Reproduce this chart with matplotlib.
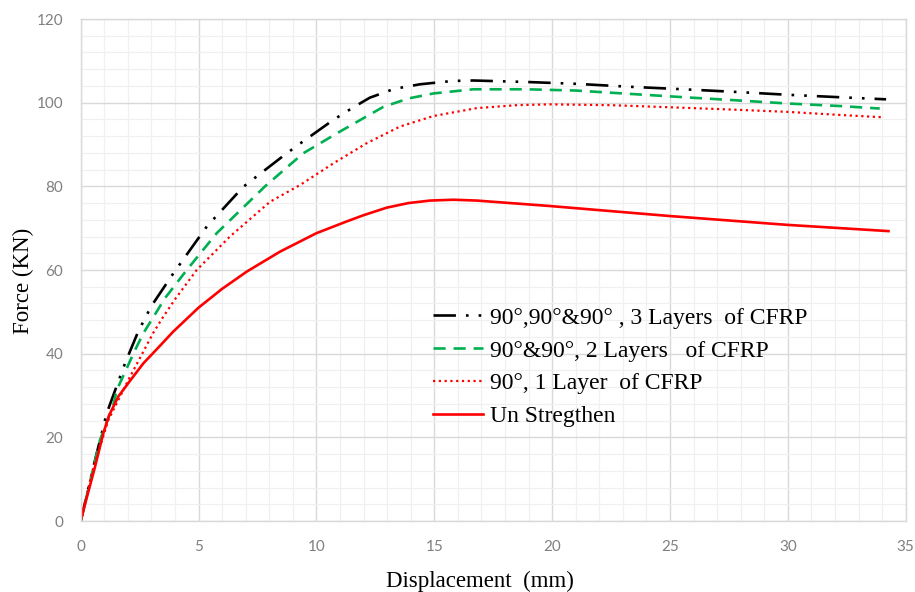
import matplotlib
matplotlib.use("Agg")
import matplotlib.pyplot as plt
from matplotlib.ticker import MultipleLocator

# ---- data ----
x_3l = [0, 0.54, 1.1, 1.88, 2.44, 3.0, 3.93, 5.35, 6.9, 8.6, 9.3, 10.0, 10.72, 11.6, 12.27, 13.3, 14.4,
        15.8, 16.66, 18.9, 21.04, 23.3, 25.57, 27.7, 29.95, 32.2, 34.17]
y_3l = [0, 13.0, 25.7, 37.7, 45.3, 51.4, 59.2, 70.4, 79.9, 87.3, 90.2, 93.0, 95.9, 99.0, 101.2, 103.3, 104.4,
        105.2, 105.3, 104.95, 104.5, 103.8, 103.2, 102.6, 101.9, 101.3, 100.8]

x_2l = [0, 0.82, 1.38, 1.53, 2.3, 2.66, 3.58, 4.5, 5.77, 7.82, 9.44, 11.0, 12.84, 13.9, 14.96,
        16.66, 18.9, 21.0, 23.3, 25.6, 27.7, 30.0, 32.2, 33.9]
y_2l = [0, 19.4, 27.7, 31.3, 40.8, 44.9, 53.3, 60.0, 68.8, 80.0, 87.9, 93.1, 99.0, 101.0, 102.2,
        103.2, 103.2, 102.9, 102.1, 101.3, 100.6, 99.8, 99.2, 98.6]

x_1l = [0, 0.5, 1.17, 2.02, 3.08, 3.5, 4.0, 4.92, 6.33, 8.03, 9.3, 10.72, 12.13, 13.55, 14.96,
        16.8, 18.5, 19.9, 22.5, 25.0, 27.4, 30.0, 32.1, 34.05]
y_1l = [0, 12.0, 24.1, 33.7, 45.0, 48.8, 53.0, 60.0, 68.0, 76.3, 80.3, 85.5, 90.3, 94.3, 96.8,
        98.7, 99.4, 99.6, 99.4, 98.9, 98.4, 97.8, 97.1, 96.5]

x_un = [0, 0.3, 0.6, 0.96, 1.2, 1.6, 2.09, 2.66, 3.3, 3.93, 5.0, 6.0, 7.04, 8.46, 10.0, 11.28,
        12.0, 12.98, 13.9, 14.82, 15.8, 16.8, 19.9, 25.0, 29.95, 34.27]
y_un = [0, 6.5, 12.8, 21.0, 25.2, 29.8, 33.5, 37.7, 41.5, 45.3, 51.0, 55.5, 59.6, 64.4, 68.8, 71.6,
        73.1, 74.9, 76.0, 76.6, 76.8, 76.6, 75.3, 72.9, 70.8, 69.3]

labels = ["90°,90°&90° , 3 Layers  of CFRP",
          "90°&90°, 2 Layers   of CFRP",
          "90°, 1 Layer  of CFRP",
          "Un Stregthen"]

x_ticks = [0, 5, 10, 15, 20, 25, 30, 35]
y_ticks = [0, 20, 40, 60, 80, 100, 120]

# ---- figure ----
fig = plt.figure(figsize=(9.15, 5.92), dpi=100)
ax = fig.add_axes([0.0882, 0.1199, 0.9016, 0.848])

serif = "Liberation Serif"
tickfont = "Lato"

ax.plot(x_3l, y_3l, color="#000000", lw=1.9,
        linestyle=(0, (8.5, 3.8, 1.0, 3.8, 1.0, 3.8)), label=labels[0])
ax.plot(x_2l, y_2l, color="#00b050", lw=1.9,
        linestyle=(0, (4.6, 3.0)), label=labels[1])
ax.plot(x_1l, y_1l, color="#ff0000", lw=1.6,
        linestyle=(0, (1.0, 1.6)), label=labels[2])
ax.plot(x_un, y_un, color="#ff0000", lw=1.9, linestyle="-", label=labels[3])

ax.set_xlim(0, 35)
ax.set_ylim(0, 120)
ax.set_xticks(x_ticks)
ax.set_yticks(y_ticks)
ax.xaxis.set_minor_locator(MultipleLocator(1))
ax.yaxis.set_minor_locator(MultipleLocator(4))
ax.grid(which="major", color="#d9d9d9", lw=1.0)
ax.grid(which="minor", color="#f0f0f0", lw=0.9)
ax.set_axisbelow(True)
for s in ax.spines.values():
    s.set_color("#d9d9d9")
    s.set_linewidth(1.0)
ax.tick_params(which="both", length=0, colors="#808080", labelsize=11)
ax.tick_params(axis="x", pad=13.5)
ax.tick_params(axis="y", pad=12.5)
for lab in ax.get_xticklabels() + ax.get_yticklabels():
    lab.set_fontfamily(tickfont)
    lab.set_color("#808080")

ax.set_xlabel("Displacement  (mm)", fontfamily=serif, fontsize=16.5, color="#000000")
ax.set_ylabel("Force (KN)", fontfamily=serif, fontsize=16.5, color="#000000")
ax.xaxis.set_label_coords(0.484, -0.1)
ax.yaxis.set_label_coords(-0.0566, 0.478)

leg = ax.legend(loc="upper left", bbox_to_anchor=(0.427, 0.426), frameon=False,
                prop={"family": serif, "size": 17}, handlelength=2.1,
                handletextpad=0.3, labelspacing=0.48, borderaxespad=0, borderpad=0)

fig.savefig("out.png", dpi=100, facecolor="white")
